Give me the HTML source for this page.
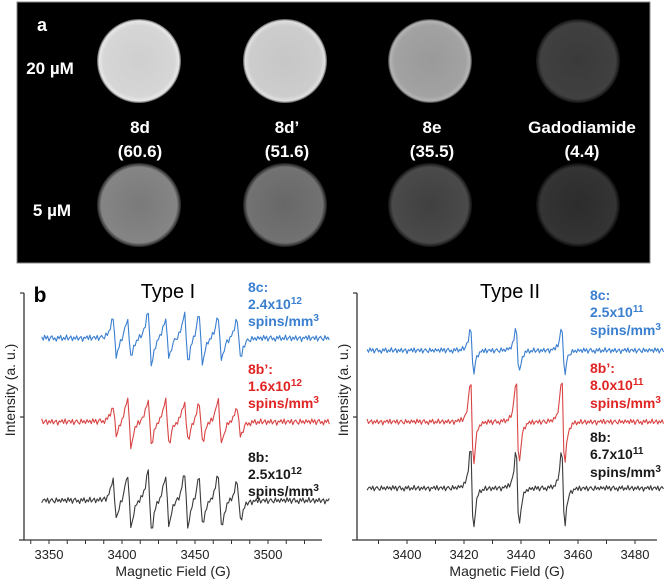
<!DOCTYPE html>
<html><head><meta charset="utf-8">
<style>
html,body{margin:0;padding:0;background:#fff;width:670px;height:584px;overflow:hidden;font-family:"Liberation Sans",Arial,sans-serif;}
svg{display:block}
</style></head>
<body>
<svg id="fig" width="670" height="584" viewBox="0 0 670 584" xmlns="http://www.w3.org/2000/svg" font-family="Liberation Sans, Arial, sans-serif">
<defs>
<radialGradient id="g1" cx="50%" cy="50%" r="50%"><stop offset="0" stop-color="#cfcfcf"/><stop offset="0.85" stop-color="#d6d6d6"/><stop offset="0.95" stop-color="#e8e8e8"/><stop offset="1" stop-color="#555"/></radialGradient>
<radialGradient id="g2" cx="50%" cy="50%" r="50%"><stop offset="0" stop-color="#c6c6c6"/><stop offset="0.85" stop-color="#cdcdcd"/><stop offset="0.95" stop-color="#e0e0e0"/><stop offset="1" stop-color="#555"/></radialGradient>
<radialGradient id="g3" cx="50%" cy="50%" r="50%"><stop offset="0" stop-color="#9a9a9a"/><stop offset="0.85" stop-color="#a2a2a2"/><stop offset="0.95" stop-color="#b4b4b4"/><stop offset="1" stop-color="#333"/></radialGradient>
<radialGradient id="g4" cx="50%" cy="50%" r="50%"><stop offset="0" stop-color="#3a3a3a"/><stop offset="0.9" stop-color="#404040"/><stop offset="1" stop-color="#111"/></radialGradient>
<radialGradient id="g5" cx="50%" cy="50%" r="50%"><stop offset="0" stop-color="#7a7a7a"/><stop offset="0.9" stop-color="#858585"/><stop offset="1" stop-color="#222"/></radialGradient>
<radialGradient id="g6" cx="50%" cy="50%" r="50%"><stop offset="0" stop-color="#686868"/><stop offset="0.9" stop-color="#727272"/><stop offset="1" stop-color="#1a1a1a"/></radialGradient>
<radialGradient id="g7" cx="50%" cy="50%" r="50%"><stop offset="0" stop-color="#404040"/><stop offset="0.9" stop-color="#4a4a4a"/><stop offset="1" stop-color="#111"/></radialGradient>
<radialGradient id="g8" cx="50%" cy="50%" r="50%"><stop offset="0" stop-color="#2c2c2c"/><stop offset="0.9" stop-color="#343434"/><stop offset="1" stop-color="#0a0a0a"/></radialGradient>
</defs>

<g>
<rect x="17" y="2" width="633" height="261" fill="#000" stroke="#888" stroke-width="1"/>
<text x="42" y="31" fill="#fff" font-size="18" font-weight="bold" text-anchor="middle">a</text>
<text x="50" y="74" fill="#fff" font-size="17" font-weight="bold" text-anchor="middle">20 µM</text>
<text x="52" y="216" fill="#fff" font-size="17" font-weight="bold" text-anchor="middle">5 µM</text>
<circle cx="139" cy="61" r="42" fill="url(#g1)"/>
<circle cx="285" cy="61" r="42" fill="url(#g2)"/>
<circle cx="430" cy="61" r="42" fill="url(#g3)"/>
<circle cx="578" cy="61" r="42" fill="url(#g4)"/>
<circle cx="139" cy="205" r="42" fill="url(#g5)"/>
<circle cx="285" cy="205" r="42" fill="url(#g6)"/>
<circle cx="430" cy="205" r="42" fill="url(#g7)"/>
<circle cx="578" cy="205" r="42" fill="url(#g8)"/>
<g fill="#fff" font-size="17" font-weight="bold" text-anchor="middle">
<text x="140" y="133">8d</text>
<text x="140" y="157">(60.6)</text>
<text x="287" y="133">8d’</text>
<text x="287" y="157">(51.6)</text>
<text x="432" y="133">8e</text>
<text x="432" y="157">(35.5)</text>
<text x="582" y="133">Gadodiamide</text>
<text x="582" y="157">(4.4)</text>
</g>
</g>

<g id="chartL"></g>
<g id="chartR"></g>

<text x="40" y="302" font-size="21" font-weight="bold" text-anchor="middle">b</text>
<text x="168" y="298" font-size="20" text-anchor="middle">Type I</text>
<text x="510" y="298" font-size="20" text-anchor="middle">Type II</text>

<g font-size="14" font-weight="bold">
<g fill="#3a7fd0">
<text x="248" y="292">8c:</text>
<text x="248" y="309">2.4x10<tspan font-size="10" dy="-5">12</tspan></text>
<text x="248" y="326">spins/mm<tspan font-size="10" dy="-5">3</tspan></text>
</g>
<g fill="#e02424">
<text x="248" y="374">8b’:</text>
<text x="248" y="391">1.6x10<tspan font-size="10" dy="-5">12</tspan></text>
<text x="248" y="408">spins/mm<tspan font-size="10" dy="-5">3</tspan></text>
</g>
<g fill="#1a1a1a">
<text x="248" y="462">8b:</text>
<text x="248" y="479">2.5x10<tspan font-size="10" dy="-5">12</tspan></text>
<text x="248" y="496">spins/mm<tspan font-size="10" dy="-5">3</tspan></text>
</g>
<g fill="#3a7fd0">
<text x="590" y="300">8c:</text>
<text x="590" y="317">2.5x10<tspan font-size="10" dy="-5">11</tspan></text>
<text x="590" y="335">spins/mm<tspan font-size="10" dy="-5">3</tspan></text>
</g>
<g fill="#e02424">
<text x="590" y="373">8b’:</text>
<text x="590" y="390">8.0x10<tspan font-size="10" dy="-5">11</tspan></text>
<text x="590" y="408">spins/mm<tspan font-size="10" dy="-5">3</tspan></text>
</g>
<g fill="#1a1a1a">
<text x="590" y="442">8b:</text>
<text x="590" y="459">6.7x10<tspan font-size="10" dy="-5">11</tspan></text>
<text x="590" y="477">spins/mm<tspan font-size="10" dy="-5">3</tspan></text>
</g>
</g>
</svg>

<script>
// ---- Type I data ----
const typeIRange = [3345, 3542];
const typeITicks = [3350, 3400, 3450, 3500];
const typeICenters = [3395, 3405, 3419, 3431, 3444, 3454, 3467, 3480];
const typeIBlueAmps = [8, 8, 11, 8, 10, 10, 9, 8];
const typeIRedAmps = [6, 10, 9, 9, 8, 8, 9, 6];
const typeIBlackAmps = [8, 11, 12, 10, 11, 10, 11, 8];
const typeIOffsets = [82, 48, 16];
// ---- Type II data ----
const typeIIRange = [3386, 3490];
const typeIITicks = [3400, 3420, 3440, 3460, 3480];
const typeIICenters = [3422.8, 3438.8, 3454.8];
const typeIIBlueAmps = [9.5, 9.5, 9.5];
const typeIIRedAmps = [18, 18, 18];
const typeIIBlackAmps = [17, 16, 16];
const typeIIOffsets = [77, 48, 21];
// hand-read baseline wiggle (units)
const noise = [0.6,-0.8,1.2,-0.3,0.9,-1.1,0.4,1.0,-0.6,0.2,-1.2,0.8,-0.2,1.1,-0.9,0.3,-0.5,1.3,-0.7,0.1,0.9,-1.0,0.5,-0.4,1.0,-0.8,0.2,0.7,-1.3,0.4,-0.1,0.9,-0.6,1.2,-0.9,0.3,0.6,-0.5,1.0,-1.1,0.2,0.8,-0.3,-0.9,1.1,-0.4,0.5,-0.7,0.9,-0.2];

const NS = 'http://www.w3.org/2000/svg';
function mk(tag, attrs, parent){const e=document.createElementNS(NS,tag);for(const k in attrs)e.setAttribute(k,attrs[k]);parent.appendChild(e);return e;}
function dlor(x,c,w){const u=(x-c)/w;return -u/Math.pow(1+u*u,2)/0.325;}

function drawChart(g, cfg){
  const xS = v => cfg.x0 + (v - cfg.g0) * cfg.pxPerG;
  const yS = v => 540 - v * 2.46;
  const ya = mk('line',{x1:cfg.ax,y1:293,x2:cfg.ax,y2:540,stroke:'#333','stroke-width':1.3},g);
  
  
  const xa = mk('line',{x1:cfg.ax-5,y1:540,x2:cfg.axEnd,y2:540,stroke:'#333','stroke-width':1.3},g);
  
  
  [293,417].forEach(y=>{mk('line',{x1:cfg.ax-4,y1:y,x2:cfg.ax,y2:y,stroke:'#333','stroke-width':1.2},g);});
  for(let v=cfg.minorStart; xS(v)<=cfg.axEnd; v+=cfg.minor){
    if(xS(v)<cfg.ax+2) continue;
    mk('line',{x1:xS(v),y1:540,x2:xS(v),y2:544,stroke:'#333','stroke-width':1},g);
  }
  cfg.ticks.forEach(t=>{
    const tl = mk('text',{x:xS(t),y:559,'font-size':13,'text-anchor':'middle',fill:'#222'},g);
    tl.textContent = t;
    
    
  });
  const xt = mk('text',{x:(cfg.ax+cfg.axEnd)/2,y:576,'font-size':14,'text-anchor':'middle',fill:'#222'},g);
  xt.textContent='Magnetic Field (G)';
  
  
  const yt = mk('text',{x:0,y:0,'font-size':14,'text-anchor':'middle',fill:'#222',transform:`translate(${cfg.ax-9},390) rotate(-90)`},g);
  yt.textContent='Intensity (a. u.)';
  
  
  cfg.series.forEach((s,si)=>{
    let d='';
    let i=0;
    for(let v=cfg.range[0]; v<=cfg.range[1]+1e-9; v+=cfg.step, i++){
      let val = cfg.offsets[si] + noise[(i+si*17)%noise.length]*cfg.noiseAmp;
      cfg.centers.forEach((c,k)=>{ val += s.amps[k]*dlor(v,c,cfg.w); });
      d += (i?'L':'M')+xS(v).toFixed(1)+','+yS(val).toFixed(1);
    }
    const p = mk('path',{d:d,fill:'none',stroke:s.color,'stroke-width':1.1,'stroke-linejoin':'round'},g);
    
    
  });
}

drawChart(document.getElementById('chartL'),{
  x0:49, g0:3350, pxPerG:1.46, ax:24, axEnd:322, minorStart:3337.5, minor:12.5,
  ticks:typeITicks, range:typeIRange, centers:typeICenters, w:2.2, step:1, noiseAmp:1.0,
  offsets:typeIOffsets,
  series:[{name:'series-8c-type-i',color:'#3a7fd0',amps:typeIBlueAmps},
          {name:'series-8b-prime-type-i',color:'#d94444',amps:typeIRedAmps},
          {name:'series-8b-type-i',color:'#3a3a3a',amps:typeIBlackAmps}]
});
drawChart(document.getElementById('chartR'),{
  x0:407, g0:3400, pxPerG:2.85, ax:357, axEnd:657, minorStart:3390, minor:10,
  ticks:typeIITicks, range:typeIIRange, centers:typeIICenters, w:0.9, step:0.5, noiseAmp:0.9,
  offsets:typeIIOffsets,
  series:[{name:'series-8c-type-ii',color:'#3a7fd0',amps:typeIIBlueAmps},
          {name:'series-8b-prime-type-ii',color:'#d94444',amps:typeIIRedAmps},
          {name:'series-8b-type-ii',color:'#3a3a3a',amps:typeIIBlackAmps}]
});
</script>
</body></html>
